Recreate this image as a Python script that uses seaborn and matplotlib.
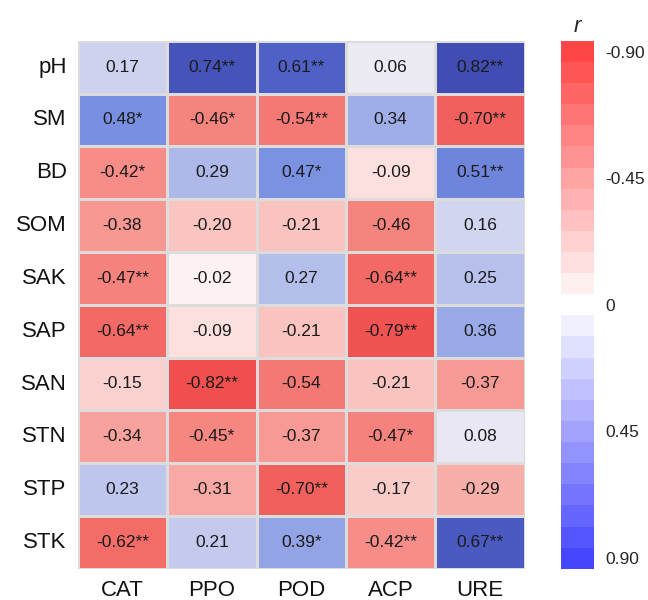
import numpy as np
import pandas as pd
import matplotlib
matplotlib.use('Agg')
import matplotlib.pyplot as plt
import seaborn as sns
from matplotlib.colors import LinearSegmentedColormap, Normalize
from matplotlib.cm import ScalarMappable

# Soil properties (rows) and enzyme activities (columns)
properties = ['pH', 'SM', 'BD', 'SOM', 'SAK', 'SAP', 'SAN', 'STN', 'STP', 'STK']
enzymes = ['CAT', 'PPO', 'POD', 'ACP', 'URE']

# Pearson r
r_values = [
    [0.17, 0.74, 0.61, 0.06, 0.82],
    [0.48, -0.46, -0.54, 0.34, -0.70],
    [-0.42, 0.29, 0.47, -0.09, 0.51],
    [-0.38, -0.20, -0.21, -0.46, 0.16],
    [-0.47, -0.02, 0.27, -0.64, 0.25],
    [-0.64, -0.09, -0.21, -0.79, 0.36],
    [-0.15, -0.82, -0.54, -0.21, -0.37],
    [-0.34, -0.45, -0.37, -0.47, 0.08],
    [0.23, -0.31, -0.70, -0.17, -0.29],
    [-0.62, 0.21, 0.39, -0.42, 0.67],
]

# significance marks
signif = [
    ['', '**', '**', '', '**'],
    ['*', '*', '**', '', '**'],
    ['*', '', '*', '', '**'],
    ['', '', '', '', ''],
    ['**', '', '', '**', ''],
    ['**', '', '', '**', ''],
    ['', '**', '', '', ''],
    ['', '*', '', '*', ''],
    ['', '', '**', '', ''],
    ['**', '', '*', '**', '**'],
]

cbar_ticks = [-0.90, -0.45, 0, 0.45, 0.90]
cbar_ticklabels = ['-0.90', '-0.45', '0', '0.45', '0.90']

df = pd.DataFrame(r_values, index=properties, columns=enzymes)
annot = np.array([[f"{v:.2f}{s}" for v, s in zip(rv, sv)]
                  for rv, sv in zip(r_values, signif)])

sns.set_style('white')
plt.rcParams['font.family'] = ['Liberation Sans', 'DejaVu Sans']

lim = 0.94
cell_cmap = LinearSegmentedColormap.from_list(
    'cells', [(0.0, '#ee3e3e'), (0.25, '#f5827c'), (0.5, '#fdf7f6'),
              (0.75, '#7d93e3'), (0.83, '#4d5fc6'), (1.0, '#3a42a6')])
bar_cmap = LinearSegmentedColormap.from_list(
    'bar', ['#ff4646', '#ffffff', '#4646ff']).resampled(25)

fig = plt.figure(figsize=(6.48, 6.0), dpi=100)
ax = fig.add_axes([0.120, 0.052, 0.690, 0.880])
cax = fig.add_axes([0.866, 0.052, 0.051, 0.880])

sns.heatmap(df, ax=ax, cmap=cell_cmap, vmin=-lim, vmax=lim, cbar=False,
            annot=annot, fmt='', annot_kws={'size': 12.5, 'color': '#1a1a1a'},
            linewidths=1, linecolor='#dcdcdc')
ax.tick_params(length=0, labelsize=16, pad=8, labelcolor='#111111')
ax.set_yticklabels(properties, rotation=0)
ax.set_xticklabels(enzymes, rotation=0)
ax.set_xlabel('')
ax.set_ylabel('')

sm = ScalarMappable(norm=Normalize(-lim, lim), cmap=bar_cmap)
cbar = fig.colorbar(sm, cax=cax)
cbar.outline.set_visible(False)
cbar.set_ticks(cbar_ticks)
cbar.set_ticklabels(cbar_ticklabels)
cbar.ax.tick_params(length=0, labelsize=12.5, pad=8)
cbar.ax.invert_yaxis()
cax.set_title('r', style='italic', fontsize=16, pad=6)

plt.savefig('out.png', dpi=100)
